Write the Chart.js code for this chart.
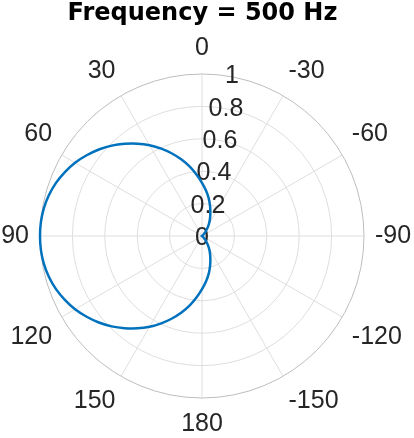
<!DOCTYPE html>
<html>
<head>
<meta charset="utf-8">
<script src="https://cdn.jsdelivr.net/npm/chart.js@4.4.1/dist/chart.umd.min.js"></script>
<style>
  html, body { margin: 0; padding: 0; background: #ffffff; }
  #wrap { width: 414px; height: 438px; }
</style>
</head>
<body>
<div id="wrap"><canvas id="c" width="414" height="438"></canvas></div>
<script>
// Angles (degrees) of the samples, going clockwise from the top
const angles = [0, -5, -10, -15, -20, -25, -30, -35, -40, -45, -50, -55, -60, -65, -70, -75, -80, -85,
                -90, -95, -100, -105, -110, -115, -120, -125, -130, -135, -140, -145, -150, -155, -160, -165, -170, -175,
                180, 175, 170, 165, 160, 155, 150, 145, 140, 135, 130, 125, 120, 115, 110, 105, 100, 95,
                90, 85, 80, 75, 70, 65, 60, 55, 50, 45, 40, 35, 30, 25, 20, 15, 10, 5];
// Magnitude at each angle
const magnitude = [0.328, 0.282, 0.237, 0.192, 0.151, 0.116, 0.085, 0.055, 0.03, 0.015, 0.006, 0.002, 0, 0, 0, 0, 0, 0,
                   0, 0, 0, 0, 0, 0, 0, 0.002, 0.006, 0.015, 0.03, 0.055, 0.085, 0.116, 0.151, 0.192, 0.237, 0.282,
                   0.328, 0.38, 0.435, 0.489, 0.542, 0.595, 0.647, 0.696, 0.743, 0.789, 0.831, 0.869, 0.905, 0.934, 0.959, 0.978, 0.991, 0.998,
                   1.0, 0.998, 0.991, 0.978, 0.959, 0.934, 0.905, 0.869, 0.831, 0.789, 0.743, 0.696, 0.647, 0.595, 0.542, 0.489, 0.435, 0.38];
// Radial ticks
const rTicks = [0, 0.2, 0.4, 0.6, 0.8, 1];
const rTickLabels = ['0', '0.2', '0.4', '0.6', '0.8', '1'];
const titleText = 'Frequency = 500 Hz';

const FONT = '"Liberation Sans", Arial, Helvetica, sans-serif';
const TITLE_FONT = '"DejaVu Sans", sans-serif';
const LABEL_SIZE = 25;

const polarText = {
  id: 'polarText',
  beforeDatasetsDraw(chart) {
    const s = chart.scales.r;
    const ctx = chart.ctx;
    ctx.save();
    ctx.fillStyle = '#262626';
    ctx.font = LABEL_SIZE + 'px ' + FONT;
    const lh = LABEL_SIZE * 1.2;
    const n = angles.length;
    angles.forEach((a, i) => {
      if (a % 30 !== 0) return;
      const deg = i * 360 / n;
      const p = s.getPointPosition(i, s.drawingArea + 11);
      const align = (deg === 0 || deg === 180) ? 'center' : (deg < 180 ? 'left' : 'right');
      let y = p.y;
      if (deg === 90 || deg === 270) {
        // centred vertically
      } else if (deg < 90 || deg > 270) {
        y -= lh / 2;
      } else {
        y += lh / 2;
      }
      ctx.textAlign = align;
      ctx.textBaseline = 'middle';
      ctx.fillText(String(a), p.x, y);
    });
    ctx.textAlign = 'center';
    ctx.textBaseline = 'middle';
    rTicks.forEach((v, k) => {
      const d = s.getDistanceFromCenterForValue(v) * 1.015;
      const p = s.getPointPosition(2, d, 0.5 * Math.PI / 180);
      ctx.fillText(rTickLabels[k], p.x, p.y + 2);
    });
    ctx.restore();
  }
};

new Chart(document.getElementById('c'), {
  type: 'radar',
  data: {
    labels: angles,
    datasets: [{
      data: magnitude,
      borderColor: '#0072BD',
      borderWidth: 2.5,
      pointRadius: 0,
      pointHoverRadius: 0,
      fill: false,
      tension: 0.15
    }]
  },
  options: {
    responsive: false,
    animation: false,
    events: [],
    layout: { padding: { left: 40, right: 49, top: 0, bottom: 39 } },
    plugins: {
      legend: { display: false },
      tooltip: { enabled: false },
      title: {
        display: true,
        text: titleText,
        color: '#000000',
        font: { family: TITLE_FONT, size: 24, weight: 'bold', lineHeight: 1.1 },
        padding: { top: 1, bottom: 46.6 }
      }
    },
    scales: {
      r: {
        min: 0,
        max: 1,
        ticks: { display: false, stepSize: 0.2 },
        pointLabels: { display: false },
        grid: {
          circular: true,
          color: (c) => (c.tick && c.tick.value === 1) ? '#bdbdbd' : '#dedede',
          lineWidth: 1
        },
        angleLines: {
          display: true,
          color: '#dedede',
          lineWidth: (c) => (angles[c.index] % 30 === 0) ? 1 : 0
        }
      }
    }
  },
  plugins: [polarText]
});
</script>
</body>
</html>
